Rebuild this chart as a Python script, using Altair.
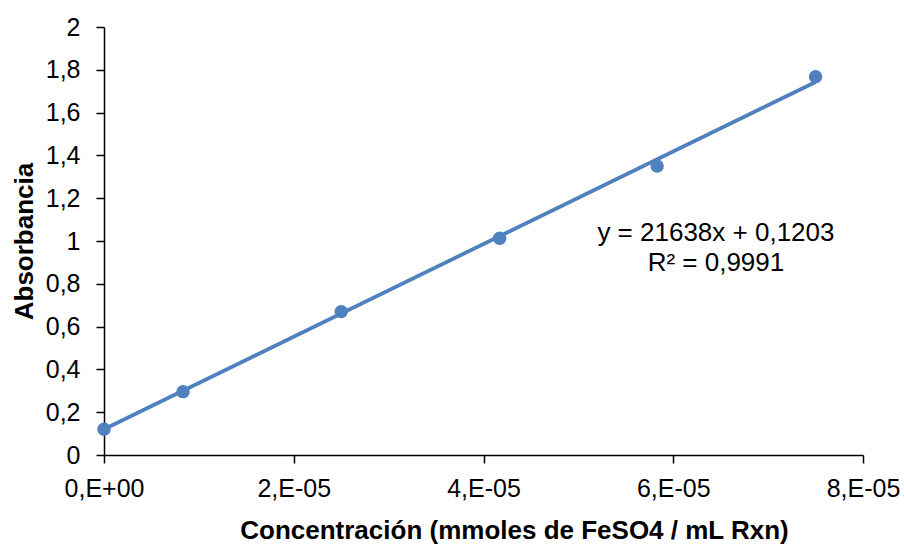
import altair as alt
import pandas as pd

# Calibration measurements: FeSO4 concentration vs. absorbance
conc = [0.0, 8.33e-6, 2.5e-5, 4.17e-5, 5.83e-5, 7.5e-5]
absorb = [0.120, 0.296, 0.670, 1.013, 1.350, 1.768]

# Linear fit reported on the chart
slope = 21638
intercept = 0.1203
r2_text = "R² = 0,9991"
eq_text = "y = 21638x + 0,1203"

x_ticks = [0, 2e-5, 4e-5, 6e-5, 8e-5]
y_ticks = [0, 0.2, 0.4, 0.6, 0.8, 1.0, 1.2, 1.4, 1.6, 1.8, 2.0]

# Where the equation label sits, in data units
label_x = 6.45e-5
label_y = [1.0, 0.86]

BLUE = "#4F81BD"
FONT = "Liberation Sans"

points = pd.DataFrame({"conc": conc, "abs": absorb})
fit_x = [min(conc), max(conc)]
fit = pd.DataFrame({"conc": fit_x, "abs": [slope * v + intercept for v in fit_x]})
labels = pd.DataFrame({"conc": [label_x, label_x], "abs": label_y, "txt": [eq_text, r2_text]})

x_label_expr = (
    "datum.value == 0 ? '0,E+00' : "
    "format(datum.value / pow(10, floor(log(datum.value) / LN10 + 1e-9)), '.0f') + ',E' + "
    "(floor(log(datum.value) / LN10 + 1e-9) < 0 ? '-' : '+') + "
    "pad(toString(abs(floor(log(datum.value) / LN10 + 1e-9))), 2, '0', 'left')"
)

x_enc = alt.X(
    "conc:Q",
    scale=alt.Scale(domain=[0, 8e-5], nice=False, zero=False),
    axis=alt.Axis(
        values=x_ticks,
        labelExpr=x_label_expr,
        title="Concentración (mmoles de FeSO4 / mL Rxn)",
        grid=False,
        tickSize=8,
        labelPadding=13,
        labelFlush=False,
        labelOverlap=False,
        titlePadding=16,
        titleX=410,
    ),
)
y_enc = alt.Y(
    "abs:Q",
    scale=alt.Scale(domain=[0, 2], nice=False),
    axis=alt.Axis(
        values=y_ticks,
        labelExpr="replace(format(datum.value, '~g'), '.', ',')",
        title="Absorbancia",
        grid=False,
        tickSize=8,
        labelPadding=16,
        labelFlush=False,
        labelOverlap=False,
        titlePadding=8,
    ),
)

trend = alt.Chart(fit).mark_line(color=BLUE, strokeWidth=3.75).encode(x=x_enc, y=y_enc)
dots = alt.Chart(points).mark_circle(color=BLUE, size=180, opacity=1).encode(x="conc:Q", y="abs:Q")
eq = alt.Chart(labels).mark_text(
    font=FONT, fontSize=26, color="#000000", align="center", baseline="alphabetic"
).encode(x="conc:Q", y="abs:Q", text="txt:N")

chart = (
    alt.layer(trend, dots, eq)
    .properties(
        width=759,
        height=428,
        autosize=alt.AutoSizeParams(type="none"),
        padding={"left": 104, "top": 27, "right": 41, "bottom": 89},
        background="white",
    )
    .configure_view(stroke=None)
    .configure_axis(
        domainColor="#000000",
        domainWidth=1.5,
        tickColor="#000000",
        tickWidth=1.5,
        labelFont=FONT,
        labelFontSize=25,
        labelColor="#000000",
        titleFont=FONT,
        titleFontSize=26,
        titleFontWeight="bold",
        titleColor="#000000",
    )
)

chart.save("out.html", embed_options={"renderer": "svg", "actions": False})
